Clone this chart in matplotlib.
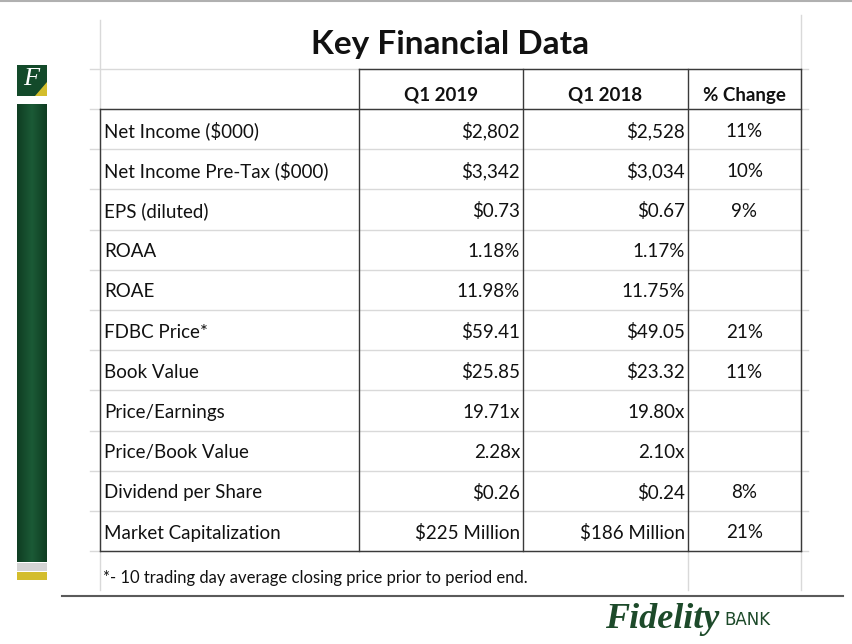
import numpy as np
import matplotlib.pyplot as plt
from matplotlib.patches import Rectangle, Polygon

plt.rcParams['font.family'] = ['Lato', 'DejaVu Sans']

title = "Key Financial Data"
columns = ["Q1 2019", "Q1 2018", "% Change"]
labels = ["Net Income ($000)", "Net Income Pre-Tax ($000)", "EPS (diluted)", "ROAA", "ROAE",
          "FDBC Price*", "Book Value", "Price/Earnings", "Price/Book Value",
          "Dividend per Share", "Market Capitalization"]
q1_2019 = ["$2,802", "$3,342", "$0.73", "1.18%", "11.98%", "$59.41", "$25.85",
           "19.71x", "2.28x", "$0.26", "$225 Million"]
q1_2018 = ["$2,528", "$3,034", "$0.67", "1.17%", "11.75%", "$49.05", "$23.32",
           "19.80x", "2.10x", "$0.24", "$186 Million"]
pct_change = ["11%", "10%", "9%", "", "", "21%", "11%", "", "", "8%", "21%"]
footnote = "*- 10 trading day average closing price prior to period end."

W, H = 853, 644
fig = plt.figure(figsize=(W / 100, H / 100), dpi=100)
ax = fig.add_axes([0, 0, 1, 1])
ax.set_xlim(0, W)
ax.set_ylim(H, 0)
ax.axis('off')

grid = '#d9d9d9'
edge = '#3a3a3a'

# layout of the sheet
x_cols = [100, 359, 523, 688, 801]
top_head, top_body = 69, 109
row_h = 40.2
n = len(labels)
bottom = top_body + n * row_h

# top border of slide
ax.plot([0, W], [0.5, 0.5], color='#b0b0b0', lw=1.5)

# light spreadsheet gridlines
ax.plot([100, 100], [20, 590], color=grid, lw=1)
ax.plot([801, 801], [15, 590], color=grid, lw=1)
ax.plot([688, 688], [bottom, 590], color=grid, lw=1)
for yy in [top_head] + [top_body + i * row_h for i in range(n + 1)]:
    ax.plot([90, 808], [yy, yy], color=grid, lw=1)

# header box
ax.plot([x_cols[1], x_cols[-1]], [top_head, top_head], color=edge, lw=1)
for xx in x_cols[1:]:
    ax.plot([xx, xx], [top_head, bottom], color=edge, lw=1)
# body box
ax.plot([x_cols[0], x_cols[-1]], [top_body, top_body], color=edge, lw=1)
ax.plot([x_cols[0], x_cols[-1]], [bottom, bottom], color=edge, lw=1)
ax.plot([x_cols[0], x_cols[0]], [top_body, bottom], color=edge, lw=1)

ax.text(450, 44, title, ha='center', va='center', fontsize=24, fontweight='bold', color='#111')

for j, c in enumerate(columns):
    ax.text((x_cols[j + 1] + x_cols[j + 2]) / 2, top_head + 26, c, ha='center', va='center',
            fontsize=13.5, fontweight='bold', color='#111')

for i in range(n):
    yc = top_body + i * row_h + 22
    ax.text(104, yc, labels[i], ha='left', va='center', fontsize=13.5, color='#111')
    ax.text(x_cols[2] - 3, yc, q1_2019[i], ha='right', va='center', fontsize=13.5, color='#111')
    ax.text(x_cols[3] - 3, yc, q1_2018[i], ha='right', va='center', fontsize=13.5, color='#111')
    ax.text((x_cols[3] + x_cols[4]) / 2, yc, pct_change[i], ha='center', va='center',
            fontsize=13.5, color='#111')

ax.text(103, 578, footnote, ha='left', va='center', fontsize=12, color='#111')

# bottom rule
ax.plot([62, 843], [596, 596], color='#5a5a5a', lw=1.5)

# left green bar with soft gradient
g = np.abs(np.linspace(-1, 1, 60))
grad = np.tile(g, (2, 1))
cmap = plt.matplotlib.colors.LinearSegmentedColormap.from_list('g', ['#1b5a36', '#0f3d22'])
ax.imshow(grad, extent=[17, 47, 562, 104], cmap=cmap, aspect='auto', zorder=1)
ax.add_patch(Rectangle((17, 563), 30, 8, color='#d4d4d4', lw=0))
ax.add_patch(Rectangle((17, 572), 30, 8, color='#d3bd2c', lw=0))

# small F logo
ax.add_patch(Rectangle((17, 65), 30, 31, color='#134a2a', lw=0))
ax.add_patch(Polygon([[47, 82], [47, 96], [35, 96]], closed=True, color='#d3bd2c', lw=0))
ax.text(31, 79, "F", ha='center', va='center', fontsize=19, style='italic',
        family='Liberation Serif', color='white')

# Fidelity BANK logo
ax.text(605, 620, "Fidelity", ha='left', va='center', fontsize=26, style='italic',
        fontweight='bold', family='Liberation Serif', color='#1d4a2a')
ax.text(724, 620, "BANK", ha='left', va='center', fontsize=12, family='DejaVu Sans',
        color='#1d4a2a')

fig.savefig('out.png', dpi=100)
